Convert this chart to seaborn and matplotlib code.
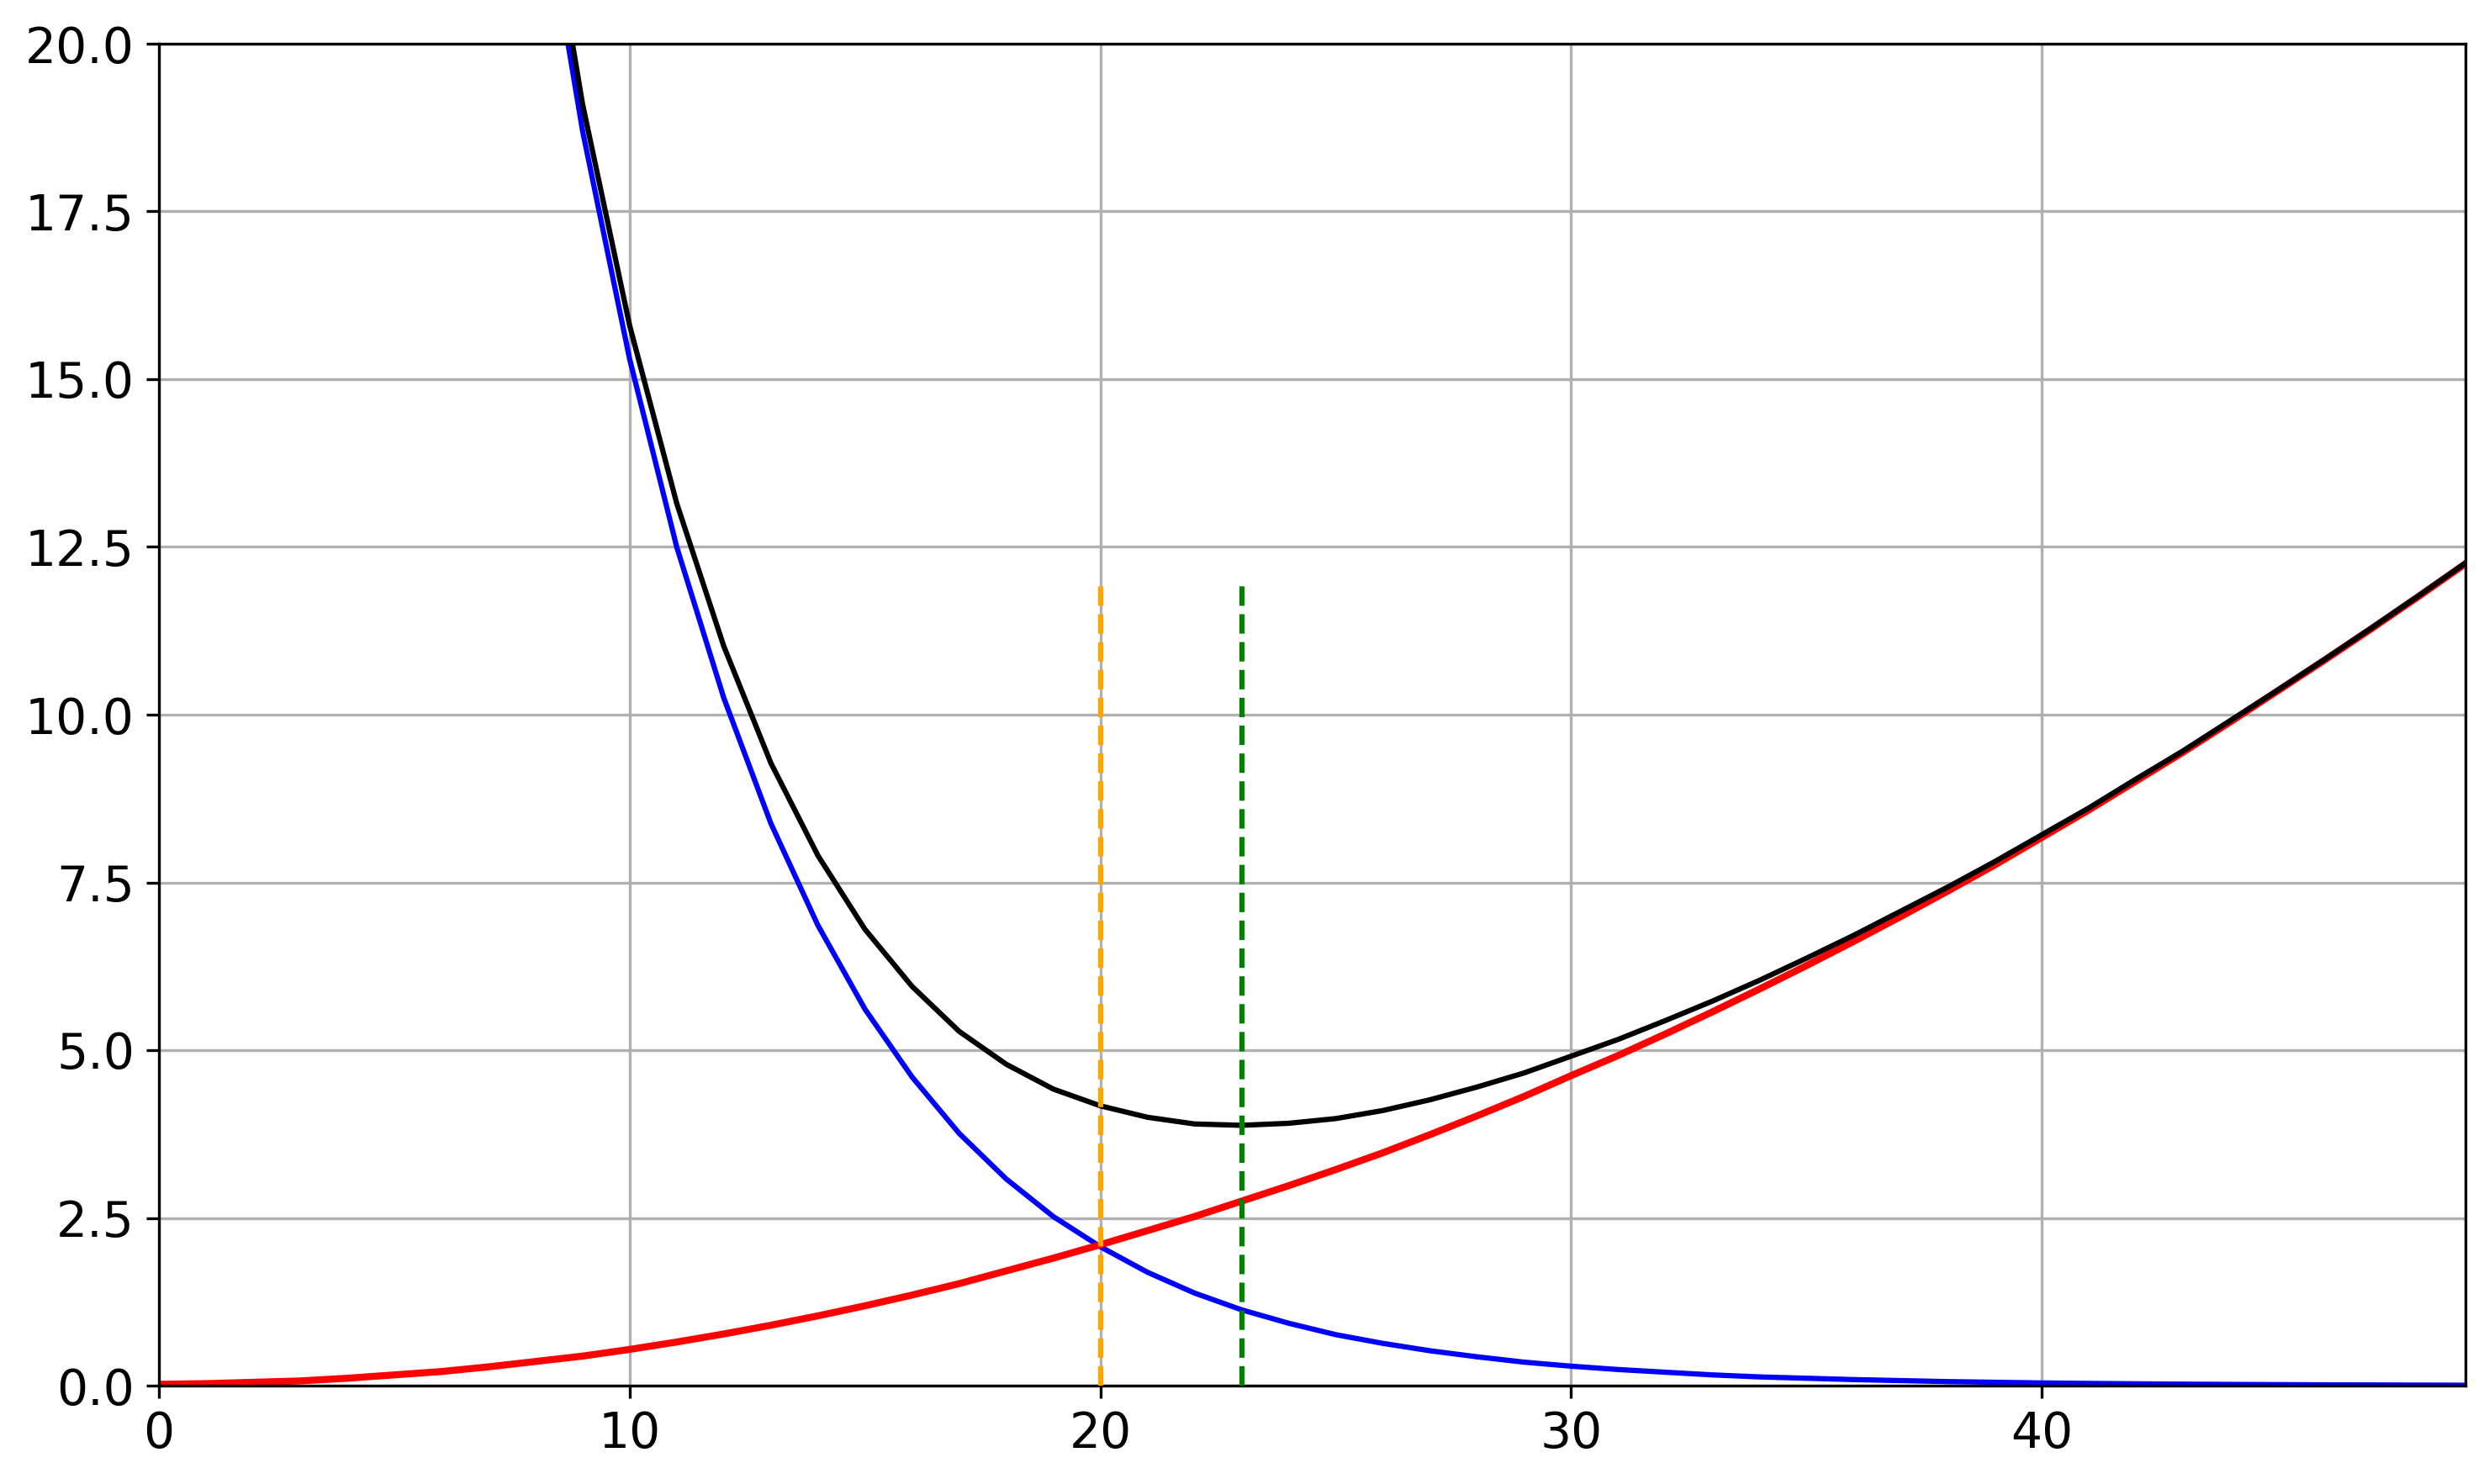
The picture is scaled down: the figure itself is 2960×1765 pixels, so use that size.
import pandas as pd
from matplotlib import pyplot as plt
import seaborn as sns

# values at x = 0..49
x_vals = list(range(50))

# decreasing curve (off the chart above 20 for x < 9)
blue_vals = [115.0, 94.0, 77.0, 63.0, 51.5, 42.1, 34.4, 28.1, 22.9, 18.7,
             15.3, 12.5, 10.25, 8.38, 6.86, 5.61, 4.60, 3.76, 3.08, 2.52,
             2.07, 1.69, 1.38, 1.13, 0.93, 0.76, 0.63, 0.52, 0.43, 0.35,
             0.29, 0.24, 0.20, 0.16, 0.13, 0.11, 0.09, 0.075, 0.06, 0.05,
             0.04, 0.033, 0.027, 0.022, 0.018, 0.015, 0.012, 0.010, 0.008, 0.006]

# increasing curve
red_vals = [0.02, 0.03, 0.05, 0.07, 0.11, 0.16, 0.21, 0.28, 0.36, 0.44,
            0.54, 0.65, 0.77, 0.90, 1.04, 1.19, 1.35, 1.52, 1.71, 1.90,
            2.10, 2.31, 2.52, 2.75, 2.98, 3.22, 3.47, 3.74, 4.02, 4.31,
            4.62, 4.92, 5.24, 5.57, 5.91, 6.26, 6.62, 6.99, 7.37, 7.76,
            8.17, 8.58, 9.01, 9.44, 9.89, 10.35, 10.81, 11.28, 11.76, 12.25]

# total curve
black_vals = [115.0, 94.0, 77.1, 63.1, 51.6, 42.3, 34.6, 28.4, 23.3, 19.1,
              15.8, 13.15, 11.02, 9.28, 7.90, 6.80, 5.95, 5.28, 4.79, 4.42,
              4.17, 4.00, 3.90, 3.88, 3.91, 3.98, 4.10, 4.26, 4.45, 4.66,
              4.91, 5.16, 5.44, 5.73, 6.04, 6.37, 6.71, 7.07, 7.43, 7.81,
              8.21, 8.61, 9.04, 9.46, 9.91, 10.36, 10.82, 11.29, 11.77, 12.26]

# vertical markers
marker_x = [20, 23]
marker_top = 12
marker_colors = ['orange', 'green']

df = pd.DataFrame({'x': x_vals, 'blue': blue_vals, 'red': red_vals, 'black': black_vals})

plt.rcParams['font.family'] = ['DejaVu Sans']
fig = plt.figure(figsize=(2960 / 300, 1765 / 300), dpi=300)
ax = fig.add_axes([189 / 2960, 117 / 1765, 2743 / 2960, 1596 / 1765])

sns.lineplot(data=df, x='x', y='blue', color='blue', linewidth=1.5, ax=ax)
sns.lineplot(data=df, x='x', y='red', color='red', linewidth=2, ax=ax)
sns.lineplot(data=df, x='x', y='black', color='black', linewidth=1.5, ax=ax)

for xv, c in zip(marker_x, marker_colors):
    ax.vlines(xv, 0, marker_top, colors=c, linestyles='--', linewidth=1.5, zorder=3)

ax.set_xlim(0, 49)
ax.set_ylim(0, 20)
ax.set_yticks([0, 2.5, 5, 7.5, 10, 12.5, 15, 17.5, 20])
ax.set_xticks([0, 10, 20, 30, 40])
ax.yaxis.set_major_formatter(plt.FormatStrFormatter('%.1f'))
ax.tick_params(labelsize=14)
ax.set(xlabel='', ylabel='')
ax.grid(True, color='#b0b0b0', linewidth=0.8)
ax.set_axisbelow(True)

fig.savefig('out.png', dpi=300)
